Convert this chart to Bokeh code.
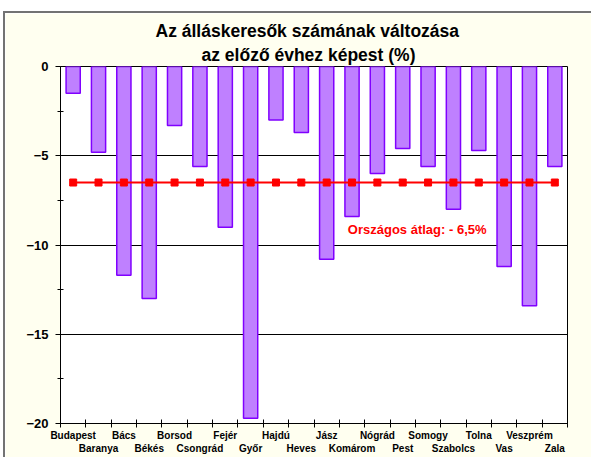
from bokeh.plotting import figure
from bokeh.models import FixedTicker, Range1d, Label, Spacer, Title
from bokeh.layouts import column, row
from bokeh.embed import file_html
from bokeh.resources import INLINE

counties = ["Budapest", "Baranya", "Bács", "Békés", "Borsod", "Csongrád", "Fejér",
            "Győr", "Hajdú", "Heves", "Jász", "Komárom", "Nógrád", "Pest",
            "Somogy", "Szabolcs", "Tolna", "Vas", "Veszprém", "Zala"]
change = [-1.5, -4.8, -11.7, -13.0, -3.3, -5.6, -9.0,
          -19.7, -3.0, -3.7, -10.8, -8.4, -6.0, -4.6,
          -5.6, -8.0, -4.7, -11.2, -13.4, -5.6]
national_avg = -6.5
avg_label = "Országos átlag: - 6,5%"
title_lines = ["Az álláskeresők számának változása", "az előző évhez képest (%)"]
y_ticks = [0, -5, -10, -15, -20]
y_minor = [-2.5, -7.5, -12.5, -17.5]

n = len(counties)
centers = [i + 0.5 for i in range(n)]
bounds = list(range(n + 1))

FONT = "Liberation Sans"

p = figure(width=588, height=446, x_range=Range1d(0, n), y_range=Range1d(-20, 0),
           output_backend="svg", toolbar_location=None, title=None,
           min_border_left=55, min_border_right=26, min_border_top=53, min_border_bottom=36,
           background_fill_color="white", border_fill_color="#FFFFF0",
           outline_line_color="black", outline_line_width=1)
p.styles = {"border-top": "2px solid #737373", "border-left": "2px solid #737373"}

t2 = Title(text=title_lines[1], align="left", text_font=FONT, text_font_size="17.5px",
           text_font_style="bold", text_color="black", standoff=4, offset=141)
t1 = Title(text=title_lines[0], align="left", text_font=FONT, text_font_size="17.5px",
           text_font_style="bold", text_color="black", standoff=0, offset=95)
p.add_layout(t2, "above")
p.add_layout(t1, "above")

p.vbar(x=centers, top=0, bottom=change, width=0.56,
       fill_color="#BF80FF", line_color="#8000FF", line_width=1.5)

avg = [national_avg] * n
p.line(x=centers, y=avg, line_color="#FF0000", line_width=2)
p.scatter(x=centers, y=avg, marker="square", size=7,
          fill_color="#FF0000", line_color="#FF0000")

p.add_layout(Label(x=14.07, y=-9.15, text=avg_label, text_align="center",
                   text_baseline="middle", text_color="#FF0000",
                   text_font=FONT, text_font_size="13px", text_font_style="bold"))

# grid
p.xgrid.grid_line_color = None
p.ygrid.grid_line_color = "black"
p.ygrid.grid_line_width = 1

# y axis
p.yaxis.ticker = FixedTicker(ticks=y_ticks, minor_ticks=y_minor)
p.yaxis.major_tick_out = 5
p.yaxis.major_tick_in = 0
p.yaxis.minor_tick_out = 3
p.yaxis.minor_tick_in = 3
p.yaxis.axis_line_color = "black"
p.yaxis.major_tick_line_color = "black"
p.yaxis.minor_tick_line_color = "black"
p.yaxis.major_label_text_font = FONT
p.yaxis.major_label_text_font_size = "13px"
p.yaxis.major_label_text_font_style = "bold"
p.yaxis.major_label_text_color = "black"
p.yaxis.major_label_standoff = 7

# x axis: labels at centers (staggered), ticks at boundaries
p.xaxis.ticker = FixedTicker(ticks=centers, minor_ticks=bounds)
p.xaxis.major_label_overrides = {
    c: (name if i % 2 == 0 else "\n" + name) for i, (c, name) in enumerate(zip(centers, counties))
}
p.xaxis.major_tick_line_color = None
p.xaxis.major_tick_out = 4
p.xaxis.major_tick_in = 0
p.xaxis.minor_tick_out = 4
p.xaxis.minor_tick_in = 4
p.xaxis.minor_tick_line_color = "black"
p.xaxis.axis_line_color = "black"
p.xaxis.major_label_text_font = FONT
p.xaxis.major_label_text_font_size = "10px"
p.xaxis.major_label_text_font_style = "bold"
p.xaxis.major_label_text_color = "black"
p.xaxis.major_label_standoff = 2

layout = column(Spacer(height=11), row(Spacer(width=3), p))

open("out.html", "w").write(file_html(layout, INLINE))
